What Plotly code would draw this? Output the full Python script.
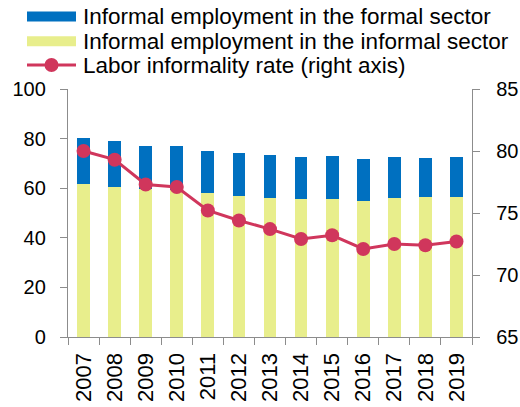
import plotly.graph_objects as go

years = [str(y) for y in range(2007, 2020)]
informal_sector = [61.6, 60.3, 59.8, 59.3, 58.2, 56.7, 56.2, 55.8, 55.8, 54.8, 55.9, 56.6, 56.6]
formal_sector = [18.6, 18.8, 17.2, 17.7, 16.7, 17.4, 17.2, 16.7, 17.2, 17.0, 16.5, 15.5, 15.9]
informality_rate = [80.0, 79.3, 77.3, 77.1, 75.2, 74.4, 73.7, 72.9, 73.2, 72.1, 72.5, 72.4, 72.7]

legend_labels = [
    "Informal employment in the formal sector",
    "Informal employment in the informal sector",
    "Labor informality rate (right axis)",
]

BLUE = "#0070C0"
YELLOW = "#E8EE8C"
RED = "#D0365C"
AXIS = "#8C8C8C"
FONT = "Liberation Sans, Arial, sans-serif"

W, H = 520, 407
ML, MR, MT, MB = 68, 48, 89, 70


def px_x(px):
    return (px - ML) / (W - ML - MR)


def px_y(py):
    return (H - MB - py) / (H - MT - MB)


fig = go.Figure()
fig.add_trace(go.Bar(x=years, y=informal_sector, marker_color=YELLOW,
                     marker_line_width=0, width=0.41, showlegend=False))
fig.add_trace(go.Bar(x=years, y=formal_sector, marker_color=BLUE,
                     marker_line_width=0, width=0.41, showlegend=False))
fig.add_trace(go.Scatter(x=years, y=informality_rate, yaxis="y2", mode="lines+markers",
                         line=dict(color=RED, width=3),
                         marker=dict(color=RED, size=14), showlegend=False))

axis_common = dict(showline=True, linecolor=AXIS, linewidth=1.3, ticks="outside",
                   ticklen=7, tickcolor=AXIS, tickwidth=1.3, showgrid=False,
                   zeroline=False, automargin=False)
num_font = dict(family=FONT, size=20, color="black")

fig.update_layout(
    width=W, height=H,
    margin=dict(l=ML, r=MR, t=MT, b=MB),
    barmode="stack",
    plot_bgcolor="white", paper_bgcolor="white",
    font=dict(family=FONT, size=20, color="black"),
    xaxis=dict(type="category", tickangle=-90, tickson="boundaries",
               range=[-0.5, 12.5], ticklabelstandoff=6,
               tickfont=dict(family=FONT, size=22, color="black"), **axis_common),
    yaxis=dict(range=[0, 100], dtick=20, ticklabelstandoff=10,
               tickfont=num_font, **axis_common),
    yaxis2=dict(range=[65, 85], dtick=5, overlaying="y", side="right",
                ticklabelstandoff=12, tickfont=num_font, **axis_common),
)

# Legend drawn above the plot area
rows = [16.5, 41.3, 65.0]
x0, x1, xt = px_x(27), px_x(76), px_x(81)
shapes = [
    dict(type="rect", xref="paper", yref="paper", x0=x0, x1=x1,
         y0=px_y(rows[0] + 5), y1=px_y(rows[0] - 5), fillcolor=BLUE, line_width=0),
    dict(type="rect", xref="paper", yref="paper", x0=x0, x1=x1,
         y0=px_y(rows[1] + 5), y1=px_y(rows[1] - 5), fillcolor=YELLOW, line_width=0),
    dict(type="line", xref="paper", yref="paper", x0=x0, x1=x1,
         y0=px_y(rows[2]), y1=px_y(rows[2]), line=dict(color=RED, width=3)),
    dict(type="circle", xref="paper", yref="paper",
         x0=px_x(51.5 - 7), x1=px_x(51.5 + 7),
         y0=px_y(rows[2] + 7), y1=px_y(rows[2] - 7), fillcolor=RED, line_width=0),
]
annotations = [
    dict(text=label, xref="paper", yref="paper", x=xt, y=px_y(r), xanchor="left",
         yanchor="middle", showarrow=False, font=dict(family=FONT, size=22.5, color="black"))
    for label, r in zip(legend_labels, rows)
]
fig.update_layout(shapes=shapes, annotations=annotations)

fig.write_html("out.html")
